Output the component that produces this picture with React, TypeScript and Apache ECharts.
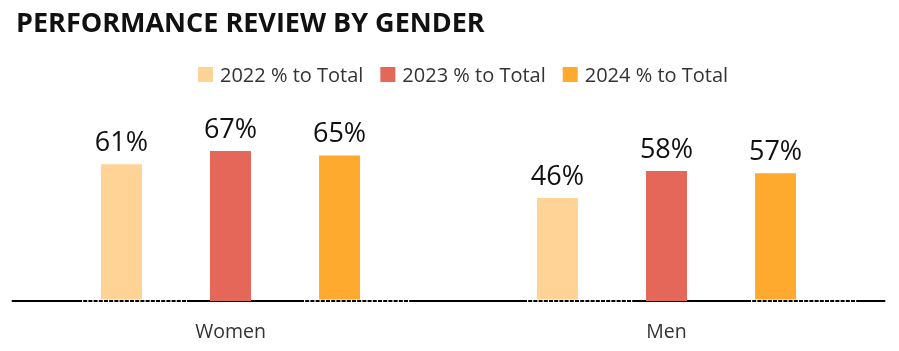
import React, { useEffect, useRef } from "react";
import * as echarts from "echarts";

const categories = ["Women", "Men"];
const seriesNames = ["2022 % to Total", "2023 % to Total", "2024 % to Total"];
const values2022 = [61, 46];
const values2023 = [67, 58];
const values2024 = [65, 57];
const colors = ["#FED395", "#E5675A", "#FDAA2F"];

export default function App() {
  const ref = useRef<HTMLDivElement>(null);
  useEffect(() => {
    if (!ref.current) return;
    const chart = echarts.init(ref.current, null, { renderer: "svg" });
    const data = [values2022, values2023, values2024];
    const font = "'Open Sans', sans-serif";
    chart.setOption({
      animation: false,
      title: {
        text: "PERFORMANCE REVIEW BY GENDER",
        left: 11,
        top: 3,
        textStyle: { fontFamily: font, fontSize: 27, fontWeight: "bold", color: "#111" },
      },
      legend: {
        left: 193,
        top: 59.5,
        itemWidth: 15,
        itemHeight: 15,
        itemGap: 17,
        icon: "rect",
        textStyle: { fontFamily: font, fontSize: 20, color: "#333", padding: [0, 0, 0, 2] },
        data: seriesNames,
      },
      grid: { left: 12.5, right: 14.5, top: 77, bottom: 50 },
      xAxis: {
        type: "category",
        data: categories,
        axisLine: { show: true, lineStyle: { color: "#000", width: 2 } },
        axisTick: { show: false },
        axisLabel: { fontFamily: font, fontSize: 19.5, color: "#333", margin: 19 },
      },
      yAxis: { type: "value", min: 0, max: 100, show: false, splitLine: { show: false } },
      series: seriesNames.map((name, i) => ({
        name,
        type: "bar",
        data: data[i],
        barWidth: 41,
        barGap: "166%",
        itemStyle: { color: colors[i] },
        label: {
          show: true,
          position: "top",
          distance: 10,
          formatter: "{c}%",
          fontFamily: font,
          fontSize: 27,
          color: "#111",
        },
      })),
    });
    // dashed segments on the baseline
    const y = chart.convertToPixel({ yAxisIndex: 0 }, 0) as number;
    const segs: Array<[number, number, number]> = [
      [0, -152.5, -43.5],
      [0, 69.5, 179.5],
      [1, -143.5, -33.5],
      [1, 80.5, 190.5],
    ];
    const elements: any[] = [];
    segs.forEach(([ci, a, b]) => {
      const cx = chart.convertToPixel({ xAxisIndex: 0 }, categories[ci]) as number;
      elements.push({
        type: "line",
        shape: { x1: cx + a, y1: y, x2: cx + b, y2: y },
        style: { stroke: "#fff", lineWidth: 3 },
        z: 100,
      });
      elements.push({
        type: "line",
        shape: { x1: cx + a, y1: y, x2: cx + b, y2: y },
        style: { stroke: "#000", lineWidth: 2, lineDash: [4, 1.2] },
        z: 101,
      });
    });
    chart.setOption({ graphic: elements });
    return () => chart.dispose();
  }, []);
  return (
    <div
      ref={ref}
      style={{ position: "fixed", left: 0, top: 0, width: 899, height: 351 }}
    />
  );
}
